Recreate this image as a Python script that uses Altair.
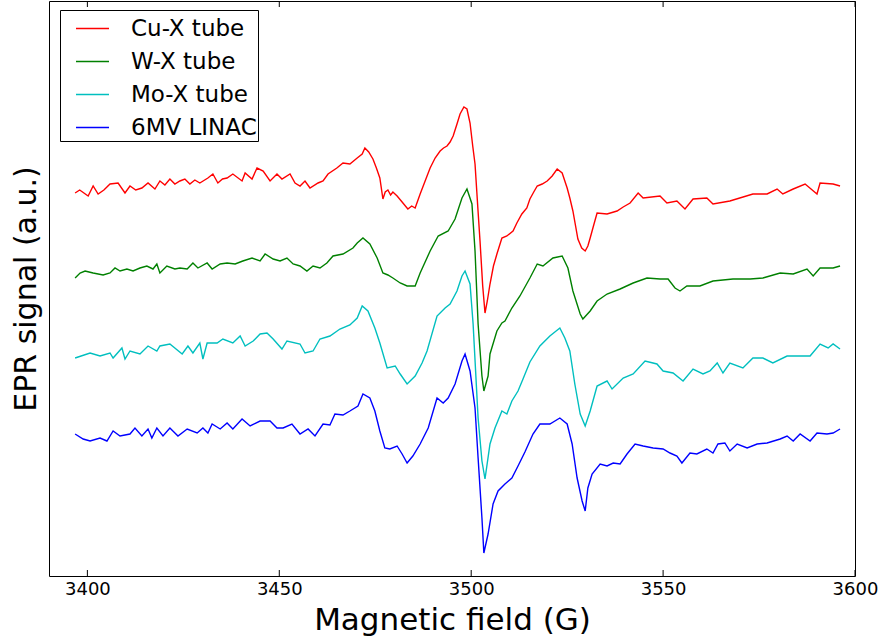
import altair as alt
import pandas as pd

series_names = ["Cu-X tube", "W-X tube", "Mo-X tube", "6MV LINAC"]
series_colors = ["#ff0000", "#008000", "#00bfbf", "#0000ff"]
x_ticks = [3400, 3450, 3500, 3550, 3600]

cu_field = [3396.8, 3398.0, 3400.2, 3401.5, 3402.8, 3404.3, 3405.9, 3408.0, 3409.8, 3411.1,
            3412.6, 3414.2, 3415.8, 3417.6, 3418.9, 3420.2, 3421.5, 3422.8, 3424.1, 3425.4,
            3426.7, 3428.0, 3429.3, 3431.4, 3432.7, 3434.0, 3435.2, 3436.4, 3437.9, 3440.3,
            3441.1, 3442.9, 3444.2, 3445.8, 3447.6, 3449.4, 3450.7, 3452.8, 3454.1, 3455.4,
            3456.7, 3458.0, 3460.1, 3461.4, 3462.7, 3465.0, 3466.6, 3468.4, 3470.3, 3471.6,
            3472.3, 3473.3, 3474.4, 3475.3, 3476.2, 3477.0, 3477.6, 3478.3, 3479.0, 3479.6,
            3480.7, 3482.0, 3483.5, 3484.5, 3485.4, 3486.7, 3488.0, 3489.3, 3490.6, 3491.9,
            3492.8, 3493.7, 3494.5, 3495.3, 3496.3, 3497.1, 3498.1, 3498.9, 3499.7, 3500.4,
            3501.0, 3501.7, 3502.3, 3503.0, 3503.6, 3504.2, 3504.9, 3505.8, 3506.7, 3508.0,
            3509.3, 3510.9, 3511.9, 3513.2, 3514.5, 3515.3, 3516.3, 3517.2, 3518.5, 3519.8,
            3521.1, 3522.4, 3523.7, 3525.0, 3525.7, 3526.5, 3527.2, 3527.8, 3528.8, 3529.7,
            3530.4, 3531.0, 3532.0, 3532.8, 3535.4, 3538.0, 3539.6, 3541.4, 3543.5, 3544.8,
            3549.2, 3551.0, 3553.6, 3555.7, 3557.8, 3561.4, 3563.0, 3567.4, 3573.4, 3577.1,
            3579.7, 3581.2, 3583.9, 3587.0, 3590.1, 3590.9, 3594.3, 3596.1]
cu_signal = [3.83, 3.86, 3.80, 3.90, 3.82, 3.86, 3.92, 3.93, 3.83, 3.90,
             3.86, 3.88, 3.93, 3.87, 3.95, 3.91, 3.97, 3.92, 3.95, 3.97,
             3.92, 3.96, 3.93, 3.98, 4.02, 3.93, 3.97, 3.98, 4.02, 3.95,
             4.03, 3.97, 4.08, 4.05, 3.95, 4.02, 3.97, 4.02, 3.93, 3.90,
             3.95, 3.88, 3.93, 3.95, 4.02, 4.08, 4.13, 4.12, 4.18, 4.22,
             4.28, 4.24, 4.17, 4.08, 3.98, 3.77, 3.84, 3.86, 3.81, 3.84,
             3.80, 3.74, 3.67, 3.70, 3.68, 3.82, 3.95, 4.08, 4.18, 4.25,
             4.28, 4.30, 4.34, 4.40, 4.52, 4.62, 4.69, 4.67, 4.53, 4.30,
             4.12, 3.70, 3.35, 2.90, 2.63, 2.75, 2.92, 3.10, 3.22, 3.38,
             3.40, 3.45, 3.53, 3.62, 3.68, 3.77, 3.84, 3.90, 3.92, 3.95,
             4.00, 4.07, 4.03, 3.88, 3.78, 3.65, 3.50, 3.37, 3.28, 3.25,
             3.30, 3.38, 3.52, 3.63, 3.62, 3.65, 3.69, 3.73, 3.83, 3.78,
             3.80, 3.73, 3.75, 3.67, 3.77, 3.78, 3.72, 3.75, 3.82, 3.82,
             3.87, 3.82, 3.87, 3.92, 3.82, 3.93, 3.92, 3.90]

w_field = [3396.8, 3398.1, 3399.4, 3401.5, 3404.1, 3405.9, 3407.2, 3408.5, 3410.3, 3411.9,
           3413.7, 3415.5, 3417.1, 3418.1, 3418.9, 3420.7, 3422.8, 3424.1, 3426.0, 3427.5,
           3428.8, 3431.2, 3432.5, 3434.6, 3436.4, 3438.5, 3440.5, 3442.9, 3445.0, 3446.3,
           3448.4, 3450.2, 3452.0, 3453.6, 3455.4, 3457.2, 3458.8, 3460.6, 3462.4, 3464.0,
           3466.6, 3469.2, 3470.3, 3471.8, 3473.6, 3475.5, 3477.0, 3478.3, 3479.6, 3481.5,
           3483.3, 3485.4, 3486.7, 3489.3, 3491.4, 3494.0, 3495.8, 3497.6, 3498.9, 3500.2,
           3501.0, 3501.8, 3502.8, 3503.3, 3504.4, 3504.9, 3506.7, 3508.0, 3508.8, 3510.6,
           3512.7, 3515.3, 3517.2, 3518.7, 3521.3, 3523.7, 3525.2, 3526.5, 3528.4, 3529.1,
           3531.0, 3532.8, 3535.4, 3538.8, 3542.2, 3545.8, 3549.2, 3551.3, 3553.1, 3554.4,
           3556.2, 3559.6, 3563.0, 3568.2, 3572.7, 3576.0, 3580.5, 3583.9, 3587.5, 3589.1,
           3590.9, 3594.3, 3596.1]
w_signal = [2.98, 3.03, 3.05, 3.03, 3.01, 3.03, 3.08, 3.05, 3.07, 3.05,
            3.08, 3.10, 3.07, 3.12, 3.03, 3.10, 3.07, 3.08, 3.07, 3.13,
            3.08, 3.13, 3.07, 3.12, 3.13, 3.12, 3.15, 3.18, 3.15, 3.22,
            3.17, 3.15, 3.18, 3.12, 3.10, 3.05, 3.10, 3.08, 3.13, 3.20,
            3.22, 3.28, 3.33, 3.38, 3.32, 3.18, 3.03, 3.01, 2.98, 2.93,
            2.90, 2.90, 3.03, 3.25, 3.40, 3.45, 3.57, 3.78, 3.87, 3.72,
            3.25, 2.52, 2.00, 1.85, 2.00, 2.22, 2.45, 2.53, 2.55, 2.68,
            2.80, 2.98, 3.12, 3.10, 3.18, 3.20, 3.08, 2.85, 2.62, 2.57,
            2.65, 2.75, 2.82, 2.87, 2.93, 2.98, 2.97, 2.97, 2.88, 2.85,
            2.90, 2.90, 2.95, 2.97, 2.97, 2.98, 3.03, 3.02, 3.07, 3.00,
            3.08, 3.08, 3.10]

mo_field = [3396.8, 3400.7, 3403.3, 3405.9, 3406.7, 3409.0, 3409.8, 3411.1, 3413.7, 3415.8,
            3418.1, 3418.9, 3421.5, 3424.7, 3426.2, 3427.5, 3429.3, 3430.1, 3431.2, 3433.8,
            3435.3, 3437.9, 3439.8, 3441.1, 3443.2, 3445.0, 3446.8, 3448.4, 3450.7, 3452.0,
            3455.4, 3456.7, 3458.8, 3460.6, 3463.2, 3465.8, 3468.4, 3470.3, 3471.6, 3473.1,
            3474.9, 3476.2, 3478.1, 3480.2, 3481.5, 3483.3, 3485.4, 3487.2, 3488.5, 3491.1,
            3493.2, 3494.5, 3496.3, 3497.6, 3498.4, 3499.7, 3500.5, 3501.8, 3502.8, 3503.6,
            3504.9, 3506.2, 3508.0, 3509.3, 3510.6, 3512.2, 3513.5, 3515.3, 3517.9, 3520.5,
            3523.1, 3524.4, 3525.7, 3527.0, 3528.4, 3529.7, 3531.0, 3532.8, 3535.4, 3536.7,
            3539.6, 3542.2, 3545.3, 3548.4, 3550.0, 3552.6, 3555.2, 3557.8, 3560.4, 3562.2,
            3564.1, 3565.6, 3567.4, 3570.8, 3573.4, 3576.0, 3578.6, 3582.3, 3585.7, 3588.3,
            3590.9, 3593.0, 3594.3, 3596.1]
mo_signal = [2.18, 2.23, 2.20, 2.23, 2.18, 2.28, 2.17, 2.25, 2.22, 2.30,
             2.25, 2.30, 2.32, 2.22, 2.30, 2.23, 2.33, 2.17, 2.33, 2.33,
             2.37, 2.33, 2.40, 2.30, 2.35, 2.42, 2.43, 2.37, 2.27, 2.35,
             2.32, 2.23, 2.25, 2.37, 2.40, 2.47, 2.51, 2.58, 2.70, 2.65,
             2.48, 2.33, 2.08, 2.10, 2.02, 1.92, 2.00, 2.13, 2.25, 2.60,
             2.68, 2.72, 2.85, 3.00, 3.05, 2.92, 2.52, 1.58, 1.15, 0.97,
             1.32, 1.48, 1.65, 1.62, 1.75, 1.85, 1.97, 2.14, 2.30, 2.40,
             2.48, 2.38, 2.25, 1.92, 1.62, 1.50, 1.65, 1.90, 1.95, 1.87,
             1.98, 2.02, 2.15, 2.12, 2.05, 2.03, 1.95, 2.07, 2.02, 2.05,
             2.13, 2.03, 2.13, 2.08, 2.18, 2.18, 2.13, 2.20, 2.20, 2.20,
             2.32, 2.28, 2.32, 2.27]

linac_field = [3396.8, 3398.9, 3400.7, 3403.3, 3405.1, 3406.7, 3408.5, 3411.1, 3412.4, 3414.2,
               3415.8, 3416.8, 3418.1, 3419.7, 3421.5, 3423.6, 3426.0, 3428.6, 3430.1, 3431.4,
               3432.5, 3434.6, 3436.4, 3437.9, 3440.3, 3442.4, 3445.0, 3447.6, 3449.4, 3451.0,
               3453.3, 3455.4, 3457.5, 3459.3, 3461.4, 3463.2, 3464.5, 3466.6, 3468.4, 3470.5,
               3471.8, 3473.6, 3474.9, 3476.2, 3477.5, 3478.8, 3480.7, 3482.0, 3483.3, 3484.8,
               3486.7, 3488.8, 3491.1, 3492.7, 3494.0, 3495.8, 3497.6, 3498.4, 3499.7, 3501.0,
               3501.8, 3502.8, 3503.3, 3504.4, 3505.7, 3507.0, 3508.8, 3510.6, 3512.2, 3514.0,
               3516.1, 3517.9, 3520.5, 3523.1, 3525.0, 3526.3, 3527.6, 3528.9, 3529.7, 3530.4,
               3531.5, 3533.6, 3535.4, 3537.0, 3538.8, 3540.6, 3542.7, 3544.8, 3547.4, 3550.0,
               3551.8, 3553.6, 3554.9, 3557.0, 3558.8, 3561.4, 3563.0, 3564.3, 3566.1, 3567.4,
               3569.3, 3571.9, 3574.5, 3577.1, 3580.5, 3582.3, 3583.9, 3585.7, 3588.3, 3590.1,
               3592.7, 3594.3, 3596.1]
linac_signal = [1.42, 1.37, 1.35, 1.38, 1.35, 1.45, 1.40, 1.42, 1.48, 1.40,
                1.47, 1.38, 1.48, 1.40, 1.48, 1.40, 1.47, 1.43, 1.48, 1.43,
                1.52, 1.47, 1.53, 1.47, 1.57, 1.50, 1.55, 1.55, 1.48, 1.48,
                1.52, 1.42, 1.47, 1.40, 1.52, 1.51, 1.62, 1.61, 1.65, 1.70,
                1.82, 1.78, 1.65, 1.45, 1.28, 1.27, 1.30, 1.22, 1.13, 1.20,
                1.32, 1.48, 1.78, 1.73, 1.78, 1.92, 2.15, 2.22, 2.05, 1.68,
                1.18, 0.58, 0.23, 0.42, 0.72, 0.85, 0.92, 0.98, 1.10, 1.24,
                1.42, 1.52, 1.52, 1.58, 1.52, 1.32, 0.98, 0.75, 0.65, 0.88,
                1.02, 1.12, 1.10, 1.13, 1.12, 1.22, 1.32, 1.30, 1.28, 1.27,
                1.23, 1.20, 1.13, 1.23, 1.22, 1.27, 1.23, 1.32, 1.33, 1.25,
                1.32, 1.28, 1.32, 1.33, 1.37, 1.40, 1.35, 1.42, 1.35, 1.43,
                1.42, 1.43, 1.47]

all_fields = [cu_field, w_field, mo_field, linac_field]
all_signals = [cu_signal, w_signal, mo_signal, linac_signal]
for f, s in zip(all_fields, all_signals):
    assert len(f) == len(s), (len(f), len(s))

rows = []
for name, f, s in zip(series_names, all_fields, all_signals):
    for i, (a, b) in enumerate(zip(f, s)):
        rows.append({"series": name, "field": a, "signal": b, "order": i})
df = pd.DataFrame(rows)
tick_df = pd.DataFrame({"field": x_ticks})

xscale = alt.Scale(domain=[3390, 3600], nice=False, zero=False)
yscale = alt.Scale(domain=[0, 5.75], nice=False, zero=False)
x_axis = alt.Axis(values=x_ticks, format="d", title="Magnetic field (G)", ticks=False,
                  domain=False, grid=False, labelFontSize=18, titleFontSize=31,
                  labelPadding=4, titlePadding=7, labelFlush=False, labelOverlap=False)

lines = alt.Chart(df).mark_line(strokeWidth=1.4, clip=True).encode(
    x=alt.X("field:Q", scale=xscale, axis=x_axis),
    y=alt.Y("signal:Q", scale=yscale,
            axis=alt.Axis(title="EPR signal (a.u.)", labels=False, ticks=False,
                          domain=False, grid=False, titleFontSize=30, titlePadding=8)),
    color=alt.Color("series:N", scale=alt.Scale(domain=series_names, range=series_colors),
                    legend=alt.Legend(title=None, orient="none", legendX=11, legendY=9,
                                      symbolType="stroke", symbolSize=1089,
                                      symbolStrokeWidth=1.4, labelFontSize=23,
                                      labelOffset=21, symbolOffset=14, padding=1,
                                      rowPadding=3, strokeColor="black",
                                      fillColor="white", cornerRadius=0,
                                      labelColor="black", labelLimit=300)),
    order="order:Q",
)

bottom_ticks = alt.Chart(tick_df).mark_rule(color="black", strokeWidth=1).encode(
    x=alt.X("field:Q", scale=xscale, axis=x_axis),
    y=alt.value(575), y2=alt.value(569),
)
top_ticks = alt.Chart(tick_df).mark_rule(color="black", strokeWidth=1).encode(
    x=alt.X("field:Q", scale=xscale, axis=x_axis),
    y=alt.value(0), y2=alt.value(6),
)

chart = alt.layer(lines, bottom_ticks, top_ticks).properties(
    width=806, height=575,
    autosize=alt.AutoSizeParams(type="none"),
    padding={"left": 49, "top": 1, "right": 24, "bottom": 67},
    background="white",
).configure(font="DejaVu Sans").configure_view(
    stroke="black", strokeWidth=1
).configure_axis(
    labelColor="black", titleColor="black", titleFontWeight="normal",
    labelFont="DejaVu Sans", titleFont="DejaVu Sans"
).configure_legend(labelFont="DejaVu Sans")

chart.save("out.html", embed_options={"renderer": "svg", "actions": False})
